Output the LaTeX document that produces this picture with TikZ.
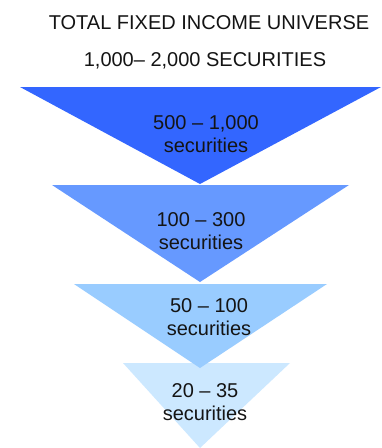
\documentclass[tikz,border=0pt]{standalone}
\usepackage{fontspec}
\setmainfont{Liberation Sans}
\definecolor{tierA}{RGB}{51,102,255}
\definecolor{tierB}{RGB}{102,153,255}
\definecolor{tierC}{RGB}{153,204,255}
\definecolor{tierD}{RGB}{204,232,255}
\definecolor{inktext}{RGB}{20,20,20}
\begin{document}
\begin{tikzpicture}[x=1pt,y=-1pt,
  lbl/.style={inner sep=0pt,align=center,text=inktext,font=\fontsize{20}{23}\selectfont},
  tier/.style={draw=none}]
\useasboundingbox (0,0) rectangle (381,448);
\fill[white] (0,0) rectangle (381,448);
% funnel tiers, narrowest first so the upper tiers overlap them
\fill[tierD] (123,363) -- (290,363) -- (200,448) -- cycle;
\fill[tierC] (74,284) -- (327,284) -- (200,368) -- cycle;
\fill[tierB] (52,185) -- (349,185) -- (200,282) -- cycle;
\fill[tierA] (20,87) -- (381,87) -- (200,184) -- cycle;
% headings
\node[lbl] (title) at (209,23) {TOTAL FIXED INCOME UNIVERSE};
\node[lbl] (total) at (205,61) {1,000– 2,000 SECURITIES};
% tier labels
\node[lbl] (t1) at (206,134) {500 – 1,000\\securities};
\node[lbl] (t2) at (201,231) {100 – 300\\securities};
\node[lbl] (t3) at (209,317) {50 – 100\\securities};
\node[lbl] (t4) at (205,402) {20 – 35\\securities};
\end{tikzpicture}
\end{document}
